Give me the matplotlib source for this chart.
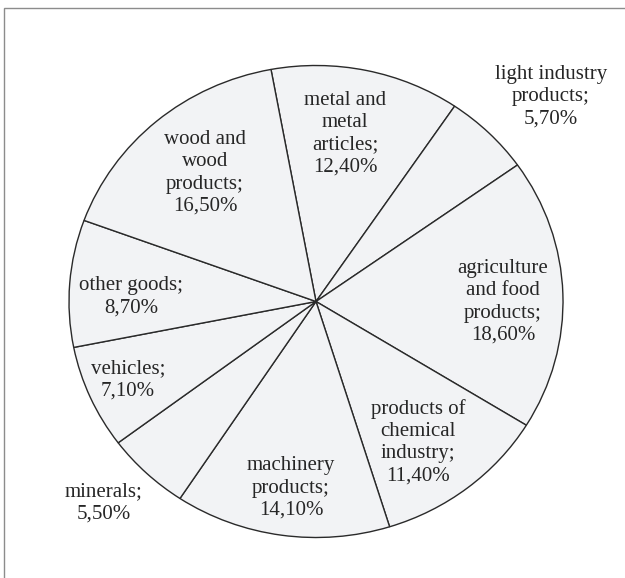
import matplotlib
matplotlib.use("Agg")
import matplotlib.pyplot as plt
from matplotlib.patches import Rectangle

plt.rcParams["font.family"] = ["Liberation Serif", "DejaVu Serif"]

# slices, clockwise from the top
names = ["metal and\nmetal\narticles", "light industry\nproducts",
         "agriculture\nand food\nproducts", "products of\nchemical\nindustry",
         "machinery\nproducts", "minerals", "vehicles", "other goods",
         "wood and\nwood\nproducts"]
shares = [12.4, 5.7, 18.6, 11.4, 14.1, 5.5, 7.1, 8.7, 16.5]

# label centres in pixels of the 625x578 picture
label_px = [(345, 134), (551, 97), (503, 302), (418, 442), (291, 488),
            (104, 503), (128, 380), (131, 297), (205, 173)]

W, H = 625, 578
cx, cy, rx, ry = 316, 301.5, 247, 236

fig = plt.figure(figsize=(W / 100, H / 100), dpi=100)
fig.patches.append(Rectangle((4 / W, -0.1), 1.2, 1 - 8 / H + 0.1,
                             transform=fig.transFigure, fill=False,
                             edgecolor="#8c8c8c", linewidth=1.0))

ax = fig.add_axes([(cx - rx) / W, 1 - (cy + ry) / H, 2 * rx / W, 2 * ry / H])
ax.pie(shares, startangle=100.5, counterclock=False, radius=1,
       colors=["#f2f3f5"] * len(shares),
       wedgeprops=dict(edgecolor="#2a2a2a", linewidth=1.0))
ax.set_aspect("auto")
ax.set_xlim(-1, 1)
ax.set_ylim(-1, 1)
ax.axis("off")

for name, v, (px, py) in zip(names, shares, label_px):
    txt = f"{name};\n{v:.2f}%".replace(".", ",")
    ax.text((px - cx) / rx, (cy - py) / ry, txt, ha="center", va="center",
            fontsize=15, linespacing=1.22, color="#262626")

fig.savefig("out.png", dpi=100)
